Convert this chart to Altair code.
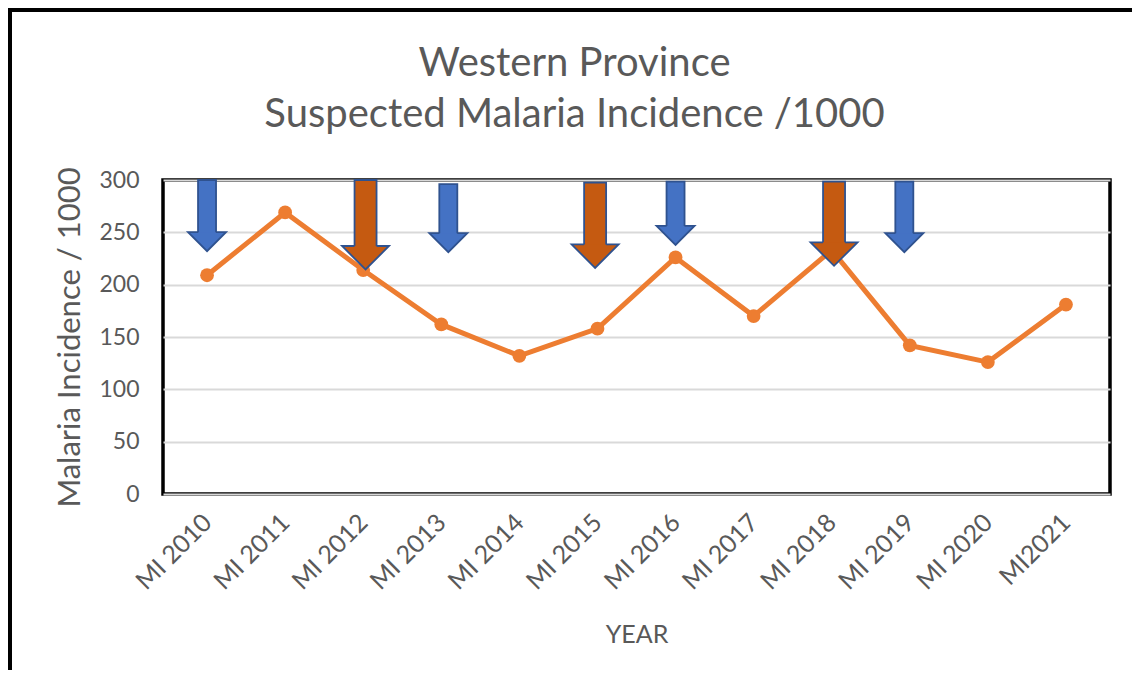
import altair as alt
import pandas as pd

# ---- data ----
years = ["MI 2010", "MI 2011", "MI 2012", "MI 2013", "MI 2014", "MI 2015",
         "MI 2016", "MI 2017", "MI 2018", "MI 2019", "MI 2020", "MI2021"]
incidence = [209, 269, 214, 162, 132, 158, 226, 170, 233, 142, 126, 181]

# arrow annotations (position in category index units, top and tip in data units)
arrow_pos = [0.0, 2.03, 3.09, 4.97, 6.0, 8.03, 8.93]
arrow_top = [300, 300, 296, 297.5, 298.5, 298.5, 298.5]
arrow_tip = [232, 214.5, 231, 216, 238, 218, 231]
arrow_kind = ["blue", "orange", "blue", "orange", "blue", "orange", "blue"]

y_ticks = [0, 50, 100, 150, 200, 250, 300]

FONT = "Lato"
GREY = "#595959"
LINE_COLOR = "#ED7D31"
OUTLINE = "#2F528F"

df = pd.DataFrame({"idx": list(range(len(years))), "year": years, "value": incidence})
arrows = pd.DataFrame({"pos": arrow_pos, "top": arrow_top, "tip": arrow_tip, "kind": arrow_kind})

W, H = 947, 314
PAD_L, PAD_T, PAD_R, PAD_B = 155, 172, 22, 176

label_expr = "[" + ",".join("'" + y + "'" for y in years) + "][datum.value]"

x_scale = alt.Scale(domain=[-0.5, len(years) - 0.5], nice=False, zero=False)
y_scale = alt.Scale(domain=[0, 300], nice=False)

x_enc = alt.X(
    "idx:Q", scale=x_scale,
    axis=alt.Axis(
        values=list(range(len(years))), labelExpr=label_expr, labelAngle=-45,
        labelAlign="right", labelBaseline="middle", labelPadding=24,
        labelFontSize=25, labelFont=FONT, labelColor=GREY, labelOverlap=False,
        ticks=False, domain=False, grid=False,
        title="YEAR", titleFontSize=25, titleFont=FONT, titleColor=GREY,
        titleFontWeight="normal", titlePadding=28,
    ),
)
y_enc = alt.Y(
    "value:Q", scale=y_scale,
    axis=alt.Axis(
        values=y_ticks, labelFontSize=23, labelFont=FONT, labelColor=GREY,
        labelPadding=24, ticks=False, domain=False,
        grid=True, gridColor="#D9D9D9", gridWidth=2,
        title="Malaria Incidence / 1000", titleFontSize=31, titleFont=FONT,
        titleColor=GREY, titleFontWeight="normal", titlePadding=12,
    ),
)

line = alt.Chart(df).mark_line(color=LINE_COLOR, strokeWidth=5).encode(x=x_enc, y=y_enc)
points = alt.Chart(df).mark_circle(color=LINE_COLOR, size=190, opacity=1).encode(
    x=alt.X("idx:Q", scale=x_scale), y=alt.Y("value:Q", scale=y_scale)
)

head_path = "M-0.47,-1 L-1,-1 L0,0 L1,-1 L0.47,-1"


def arrow_layers(kind, fill, shaft_w, head_w):
    base = alt.Chart(arrows).transform_filter(alt.datum.kind == kind)
    shaft = base.transform_calculate(bottom="datum.tip + 13").mark_bar(
        fill=fill, stroke=OUTLINE, strokeWidth=1.8, size=shaft_w
    ).encode(
        x=alt.X("pos:Q", scale=x_scale),
        y=alt.Y("top:Q", scale=y_scale),
        y2="bottom:Q",
    )
    head = base.mark_point(
        shape=head_path, filled=True, fill=fill, stroke=OUTLINE,
        strokeWidth=1.8, size=head_w * head_w, opacity=1,
    ).encode(
        x=alt.X("pos:Q", scale=x_scale),
        y=alt.Y("tip:Q", scale=y_scale),
    )
    return [shaft, head]


# outer picture frame: top and left edges (right/bottom fall outside the picture)
frame_top = alt.Chart(df).mark_rule(color="black", strokeWidth=7).encode(
    x=alt.value(-PAD_L), x2=alt.value(W + PAD_R + 40), y=alt.value(-PAD_T)
)
frame_left = alt.Chart(df).mark_rule(color="black", strokeWidth=7).encode(
    x=alt.value(-PAD_L), y=alt.value(-PAD_T), y2=alt.value(H + PAD_B + 40)
)

layers = [line, points]
layers += arrow_layers("blue", "#4472C4", 18, 38)
layers += arrow_layers("orange", "#C55A11", 22, 47)
layers += [frame_top, frame_left]

chart = alt.layer(*layers).properties(
    width=W, height=H,
    title=alt.TitleParams(
        ["Western Province", "Suspected Malaria Incidence /1000"],
        fontSize=40, font=FONT, color=GREY, fontWeight="normal",
        anchor="middle", offset=-130, lineHeight=51, dx=-62,
    ),
    autosize=alt.AutoSizeParams(type="none"),
    padding={"left": PAD_L, "top": PAD_T, "right": PAD_R, "bottom": PAD_B},
).configure(background="white").configure_view(stroke="black", strokeWidth=3.5)

chart.save("out.html", embed_options={"renderer": "svg", "actions": False})
